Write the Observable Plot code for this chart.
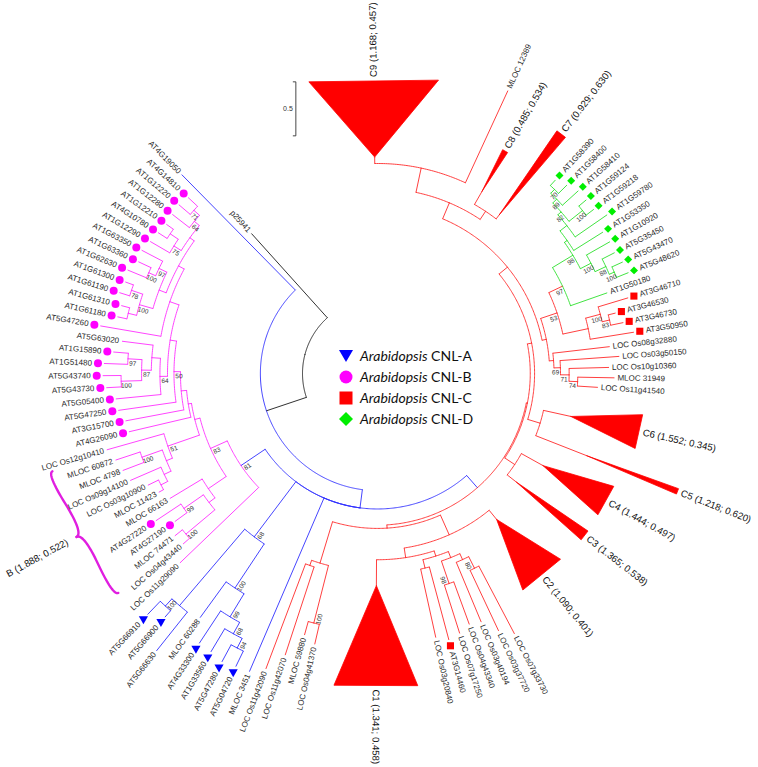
<!DOCTYPE html>
<html><head><meta charset="utf-8">
<script src="https://cdn.jsdelivr.net/npm/d3@7"></script>
<script src="https://cdn.jsdelivr.net/npm/@observablehq/plot@0.6"></script>
<style>
html,body{margin:0;padding:0;background:#fff;}
#wrap{position:relative;width:758px;height:767px;overflow:hidden;}
#legend{position:absolute;left:339px;top:345px;font-family:Lato,"Liberation Sans",Arial,sans-serif;font-size:14px;color:#111;}
#legend .row{height:21px;display:flex;align-items:center;white-space:nowrap;}
#legend svg{margin-right:7px;}
</style></head>
<body><div id="wrap"><div id="chart"></div><div id="legend"></div></div>
<script>
// ---------------- DATA ----------------
// internal nodes: [id, parent, depth from root (subst./site), bootstrap]
const outgroupNodes = [["root", null, 0, null], ["n1", "root", 0.39, null]];
const cnlANodes = [
  ["n2","n1",0.56,null],["m81","n2",0.83,81],["b68","n2",1.20,68],["y66","b68",2.13,null],
  ["x100","y66",2.22,100],["n100c","b68",1.69,100],["n99","n100c",1.94,99],["n68b","n99",2.06,68],
  ["n94","n68b",2.16,94],["nr","n2",0.71,null]
];
const cnlBNodes = [
  ["m83","m81",1.00,83],["mmain","m83",1.05,null],["mh","mmain",1.08,null],["mh1","mh",1.13,null],
  ["mh2","mh1",1.19,50],["mh3","mh2",1.25,null],["mup","mh3",1.34,null],["mu12","mup",1.40,null],
  ["mu1","mu12",1.45,null],["m64u","mu1",1.51,64],["m71","m64u",1.58,71],["m75","mu1",1.53,75],
  ["mc","m75",1.62,null],["mu2","mu12",1.47,null],["m97","mu2",1.55,97],["mg100","m97",1.62,100],
  ["mh100","mu2",1.60,100],["mh78","mh100",1.71,78],["mi","mh100",1.68,null],["m64l","mh3",1.32,64],
  ["ml2","m64l",1.40,null],["ml3","ml2",1.49,87],["ma2","ml3",1.62,97],["ma3","ml3",1.68,100],
  ["mb51","mmain",1.36,51],["mb3","mb51",1.42,null],["mb100","mb3",1.62,100],["mb4","mb3",1.49,null],
  ["mb5","mb4",1.56,null],["ml","m83",1.20,null],["ml5","ml",1.27,null],["n99m","ml5",1.49,99],
  ["n100m","ml5",1.62,100]
];
const cnlCNodes = [
  ["rb","nr",0.74,null],["rb1","rb",1.14,null],["rb1a","rb1",1.19,null],["r100","rb1",1.69,100],
  ["rd","rb",0.94,null],["rbc","rd",1.03,null],["rb2","rbc",1.08,null],["r51","rb2",1.16,null],
  ["r2","rb2",1.14,null],["r98","r2",1.36,98],["r3","r2",1.20,null],["r80","r3",1.32,80],
  ["rr","nr",0.72,null],["r34","rr",0.83,null],["rt","rr",0.76,null],["r56","rt",0.88,null],
  ["rq","rt",0.86,null],["ru","rq",0.90,null],["rl","ru",0.94,null],["r69","rl",1.00,69],
  ["r71","r69",1.08,71],["r74","r71",1.16,74],["r53","ru",1.06,53],["rc","r53",1.30,null],
  ["r100c","rc",1.44,100],["r83","r100c",1.51,83],["g97","r53",1.20,97],["r789","rq",1.02,null],
  ["r78","r789",1.11,null],["rc9","r789",1.25,null]
];
const cnlDNodes = [
  ["g98","g97",1.42,98],["g100a","g98",1.53,100],["g88","g100a",1.64,88],["g100b","g88",1.69,100],
  ["gu","g98",1.45,null],["gu1","gu",1.53,null],["g82","gu1",1.57,82],["g100c","g82",1.73,100],
  ["g89","g82",1.62,89],["g70","g89",1.67,70]
];

// leaves in drawing order: [label, parent, tip depth, marker group]
const outgroupLeaves = [["p25941","root",1.05,""]];
const cnlALeavesTop = [["AT4G19050","n1",1.89,""]];
const cnlBLeaves = [
  ["AT4G14810","m71",1.70,"B"],["AT1G12220","m71",1.72,"B"],["AT1G12280","m64u",1.71,"B"],
  ["AT1G12210","mc",1.70,"B"],["AT4G10780","mc",1.72,"B"],["AT1G12290","m75",1.74,"B"],
  ["AT1G63350","m97",1.77,"B"],["AT1G63360","mg100",1.75,"B"],["AT1G62630","mg100",1.81,"B"],
  ["AT1G61300","mh78",1.79,"B"],["AT1G61190","mh78",1.81,"B"],["AT1G61310","mi",1.76,"B"],
  ["AT1G61180","mi",1.77,"B"],["AT5G47260","mup",1.91,"B"],["AT5G63020","ml2",1.69,""],
  ["AT1G15890","ma2",1.76,"B"],["AT1G51480","ma2",1.84,"B"],["AT5G43740","ma3",1.85,"B"],
  ["AT5G43730","ma3",1.82,"B"],["AT5G05400","m64l",1.74,"B"],["AT5G47250","mh2",1.73,"B"],
  ["AT3G15700","mh1",1.68,"B"],["AT4G26090","mh",1.67,"B"],["LOC Os12g10410","mb51",1.91,""],
  ["MLOC 60872","mb100",1.86,""],["MLOC 4798","mb100",1.83,""],["LOC Os09g14100","mb4",1.80,""],
  ["LOC Os03g10900","mb5",1.67,""],["MLOC 11423","mb5",1.61,""],["MLOC 66163","ml",1.55,""],
  ["AT4G27220","n99m",1.77,"B"],["AT4G27190","n99m",1.63,"B"],["MLOC 74471","n100m",1.71,""],
  ["LOC Os04g43440","n100m",1.70,""],["LOC Os11g29090","m81",1.84,""]
];
const cnlALeaves = [
  ["AT5G66910","x100",2.39,"A"],["AT5G66900","x100",2.30,"A"],["AT5G66630","y66",2.59,""],
  ["MLOC 60288","n100c",2.10,""],["AT4G33300","n99",2.30,"A"],["AT1G33560","n68b",2.31,"A"],
  ["AT5G47280","n94",2.34,"A"],["AT5G04720","n94",2.32,"A"],["MLOC 3451","n2",2.31,""]
];
const cnlCLeavesLower = [
  ["LOC Os11g42090","rb1a",2.23,""],["LOC Os11g42070","rb1a",2.05,""],["MLOC 59880","r100",1.82,""],
  ["LOC Os04g41370","r100",1.88,""],["C1","rbc",2.22,"clade"],["LOC Os03g20840","r51",1.81,""],
  ["AT3G14460","r51",1.86,"C"],["LOC Os07g17250","r98",1.83,""],["LOC Os04g43340","r98",1.78,""],
  ["LOC Os03g40194","r3",1.80,""],["LOC Os03g37720","r80",1.94,""],["LOC Os07g33730","r80",2.03,""],
  ["C2","rd",1.72,"clade"],["C3","r34",1.74,"clade"],["C4","r34",1.73,"clade"],
  ["C5","r56",2.29,"clade"],["C6","r56",1.79,"clade"],["LOC Os11g41540","r74",1.35,""],
  ["MLOC 31949","r74",1.50,""],["LOC Os10g10360","r71",1.45,""],["LOC Os03g50150","r69",1.55,""],
  ["LOC Os08g32880","rl",1.47,""],["AT3G50950","rc",1.71,"C"],["AT3G46730","r83",1.63,"C"],
  ["AT3G46530","r83",1.58,"C"],["AT3G46710","r100c",1.73,"C"]
];
const cnlDLeaves = [
  ["AT1G50180","g97",1.56,""],["AT5G48620","g100b",1.81,"D"],["AT5G43470","g100b",1.80,"D"],
  ["AT5G35450","g88",1.77,"D"],["AT1G10920","g100a",1.78,"D"],["AT1G53350","gu",1.77,"D"],
  ["AT1G59780","gu1",1.89,"D"],["AT1G59218","g100c",1.82,"D"],["AT1G59124","g100c",1.82,"D"],
  ["AT1G58410","g89",1.82,"D"],["AT1G58400","g70",1.78,"D"],["AT1G58390","g70",1.74,"D"]
];
const cnlCLeavesUpper = [
  ["C7","r78",2.10,"clade"],["C8","r78",1.68,"clade"],["MLOC 12389","rc9",2.19,""],["C9","rc9",2.08,"clade"]
];

// collapsed clades
const cladeNames  = ["C1","C2","C3","C4","C5","C6","C7","C8","C9"];
const cladeSlots  = [9, 8, 2, 5, 1, 6, 3, 3, 19];
const cladeSpread = [6.0, 4.2, 0.95, 2.8, 0.4, 2.9, 0.8, 0.5, 9.8];
const cladeApex   = [1.27, 1.05, 0.94, 1.06, 1.39, 1.14, 1.16, 1.25, 1.31];
const cladeStats  = ["1.341; 0.458","1.090; 0.401","1.365; 0.538","1.444; 0.497","1.218; 0.620",
                     "1.552; 0.345","0.929; 0.630","0.485; 0.534","1.168; 0.457"];

// bracket B
const braceLeaves = ["LOC Os12g10410", "LOC Os04g43440"];
const braceLabel = "B (1.888; 0.522)";
const scaleBarValue = 0.5;

// legend
const legendGenus = "Arabidopsis";
const legendGroups = ["CNL-A","CNL-B","CNL-C","CNL-D"];
const legendMarkers = ["A","B","C","D"];

// ---------------- LAYOUT ----------------
const W = 758, H = 767, k = 108, cx = 377, cy = 373;
const rootOffset = 75 / k;
const startAngle = 228, step = 2.55;
const FONT = "'Liberation Sans', Arial, sans-serif";
const palette = {black:"#1a1a1a", blue:"#3030ff", magenta:"#ff30ff", red:"#ff2a2a", green:"#2ee02e"};
const markerFill = {A:"#0000ff", B:"#ff00ff", C:"#ff0000", D:"#00ee00"};
const toRad = Math.PI / 180;
const px = v => v / k;
const R = d => rootOffset + d;
const pt = (r, a) => ({x: r * Math.cos(a * toRad), y: r * Math.sin(a * toRad)});

const nodes = new Map();
for (const [rows, col] of [[outgroupNodes,"black"],[cnlANodes,"blue"],[cnlBNodes,"magenta"],[cnlCNodes,"red"],[cnlDNodes,"green"]])
  for (const [id, parent, depth, support] of rows)
    nodes.set(id, {id, parent, depth, support, color: palette[col], children: [], leaf: false});

const leafGroups = [[outgroupLeaves,"black"],[cnlALeavesTop,"blue"],[cnlBLeaves,"magenta"],[cnlALeaves,"blue"],
                    [cnlCLeavesLower,"red"],[cnlDLeaves,"green"],[cnlCLeavesUpper,"red"]];
let cum = -0.5;
const leaves = [];
for (const [rows, col] of leafGroups)
  for (const [label, parent, depth, marker] of rows) {
    const ci = cladeNames.indexOf(label);
    const w = ci >= 0 ? cladeSlots[ci] : 1;
    const pos = cum + w / 2; cum += w;
    const n = {id: label, parent, depth, marker, ci, pos, angle: startAngle - step * pos,
               color: palette[col], children: [], leaf: true};
    nodes.set(label, n); leaves.push(n);
  }
for (const n of nodes.values()) if (n.parent != null) nodes.get(n.parent).children.push(n);
(function layout(n) {
  if (n.leaf) { n.minPos = n.pos; return; }
  n.children.forEach(layout);
  n.children.sort((a, b) => a.minPos - b.minPos);
  n.minPos = n.children[0].minPos;
  n.angle = (n.children[0].angle + n.children[n.children.length - 1].angle) / 2;
})(nodes.get("root"));

const arcPts = [], radials = [];
for (const n of nodes.values()) {
  if (n.parent == null) continue;
  const p = nodes.get(n.parent);
  const r0 = R(p.depth), r1 = R(n.leaf && n.ci >= 0 ? cladeApex[n.ci] : n.depth);
  const a = pt(r0, n.angle), b = pt(r1, n.angle);
  radials.push({x1: a.x, y1: a.y, x2: b.x, y2: b.y, color: n.color});
  const steps = Math.max(2, Math.ceil(Math.abs(n.angle - p.angle) / 0.5));
  for (let i = 0; i <= steps; i++) {
    const q = pt(r0, p.angle + (n.angle - p.angle) * i / steps);
    arcPts.push({x: q.x, y: q.y, key: n.id, color: n.color});
  }
}

const isFlip = a => Math.cos(a * toRad) < -0.05;
const rotOf = a => isFlip(a) ? a - 180 : a;

const triPts = [], cladeText = [], markers = [], leafText = [];
for (const n of leaves) {
  if (n.ci >= 0) {
    const half = cladeSpread[n.ci] * step / 2;
    const ap = pt(R(cladeApex[n.ci]), n.angle);
    const c1 = pt(R(n.depth), n.angle - half), c2 = pt(R(n.depth), n.angle + half);
    for (const q of [ap, c1, c2, ap]) triPts.push({x: q.x, y: q.y, key: n.id});
    n.corner = c1;
    const q = pt(R(n.depth) * Math.cos(half * toRad) + px(4), n.angle);
    cladeText.push({x: q.x, y: q.y, text: `${n.id} (${cladeStats[n.ci]})`, rot: rotOf(n.angle), flip: isFlip(n.angle)});
  } else {
    if (n.marker) {
      const m = pt(R(n.depth) + px(6), n.angle);
      markers.push({x: m.x, y: m.y, type: n.marker});
    }
    const q = pt(R(n.depth) + px(n.marker ? 12 : 3), n.angle);
    leafText.push({x: q.x, y: q.y, text: n.id, rot: rotOf(n.angle), flip: isFlip(n.angle)});
  }
}

const supportText = [];
for (const n of nodes.values()) {
  if (n.leaf || n.support == null) continue;
  const base = pt(R(n.depth) - px(5), n.angle);
  const off = isFlip(n.angle) ? n.angle - 90 : n.angle + 90;
  const d = pt(px(4.5), off);
  supportText.push({x: base.x + d.x, y: base.y + d.y, text: String(n.support), rot: rotOf(n.angle)});
}

// curly brace for group B
const b0 = nodes.get(braceLeaves[0]), b1 = nodes.get(braceLeaves[1]);
const braceR = R(2.45);
const P1 = pt(braceR, b0.angle - 1), P2 = pt(braceR, b1.angle + 1);
const bracePts = [];
(function () {
  let dx = P1.x - P2.x, dy = P1.y - P2.y;
  const len = Math.hypot(dx, dy); dx /= len; dy /= len;
  let w = px(10); const q = 0.6;
  const mid = {x: (P1.x + P2.x) / 2, y: (P1.y + P2.y) / 2};
  if (dy * mid.x - dx * mid.y < 0) w = -w;
  const Q1 = {x: P1.x + q*w*dy, y: P1.y - q*w*dx};
  const Q2 = {x: P1.x - .25*len*dx + (1-q)*w*dy, y: P1.y - .25*len*dy - (1-q)*w*dx};
  const T  = {x: P1.x - .5*len*dx + w*dy, y: P1.y - .5*len*dy - w*dx};
  const Q3 = {x: P2.x + q*w*dy, y: P2.y - q*w*dx};
  const Q4 = {x: P1.x - .75*len*dx + (1-q)*w*dy, y: P1.y - .75*len*dy - (1-q)*w*dx};
  const quad = (a, c, b, key) => { for (let i = 0; i <= 16; i++) { const t = i/16;
    bracePts.push({key, x:(1-t)*(1-t)*a.x+2*(1-t)*t*c.x+t*t*b.x, y:(1-t)*(1-t)*a.y+2*(1-t)*t*c.y+t*t*b.y}); } };
  quad(P1, Q1, Q2, "a"); quad(Q2, {x: 2*Q2.x - Q1.x, y: 2*Q2.y - Q1.y}, T, "a");
  quad(P2, Q3, Q4, "b"); quad(Q4, {x: 2*Q4.x - Q3.x, y: 2*Q4.y - Q3.y}, T, "b");
})();
const bAngle = (b0.angle + b1.angle) / 2;
const bq = pt(braceR + px(13), bAngle);
const braceText = [{x: bq.x, y: bq.y, text: braceLabel, rot: rotOf(bAngle)}];

// scale bar next to C9
const c9 = nodes.get("C9");
const sbx = c9.corner.x - px(13), sby = c9.corner.y;
const scaleLinks = [
  {x1: sbx, y1: sby, x2: sbx, y2: sby + scaleBarValue},
  {x1: sbx - px(3), y1: sby, x2: sbx, y2: sby},
  {x1: sbx - px(3), y1: sby + scaleBarValue, x2: sbx, y2: sby + scaleBarValue}
];
const scaleText = [{x: sbx - px(3), y: sby + scaleBarValue / 2, text: String(scaleBarValue)}];

const triDown = {draw(ctx, size) {
  const a = Math.sqrt(size * 4 / Math.sqrt(3)), h = a * Math.sqrt(3) / 2;
  ctx.moveTo(0, 2*h/3); ctx.lineTo(-a/2, -h/3); ctx.lineTo(a/2, -h/3); ctx.closePath();
}};

const textOpts = {x: "x", y: "y", text: "text", rotate: "rot", fontFamily: FONT};
const chart = Plot.plot({
  width: W, height: H, margin: 0,
  x: {domain: [-cx / k, (W - cx) / k], range: [0, W], axis: null},
  y: {domain: [-cy / k, (H - cy) / k], range: [0, H], axis: null},
  color: {type: "identity"},
  style: {background: "#fff", fontFamily: FONT},
  marks: [
    Plot.line(arcPts, {x: "x", y: "y", z: "key", stroke: "color", strokeWidth: 0.9}),
    Plot.link(radials, {x1: "x1", y1: "y1", x2: "x2", y2: "y2", stroke: "color", strokeWidth: 0.9}),
    Plot.line(triPts, {x: "x", y: "y", z: "key", fill: "#ff0000", stroke: "#ff0000", strokeWidth: 0.8}),
    Plot.line(bracePts, {x: "x", y: "y", z: "key", stroke: "#e01ee0", strokeWidth: 2.4}),
    Plot.link(scaleLinks, {x1: "x1", y1: "y1", x2: "x2", y2: "y2", stroke: "#333", strokeWidth: 0.9}),
    Plot.text(scaleText, {x: "x", y: "y", text: "text", textAnchor: "end", fontSize: 7, fill: "#333", fontFamily: FONT}),
    Plot.dot(markers.filter(m => m.type === "A"), {x: "x", y: "y", r: 3.4, symbol: triDown, fill: markerFill.A, stroke: "none"}),
    Plot.dot(markers.filter(m => m.type === "B"), {x: "x", y: "y", r: 4, symbol: "circle", fill: markerFill.B, stroke: "none"}),
    Plot.dot(markers.filter(m => m.type === "C"), {x: "x", y: "y", r: 4, symbol: "square", fill: markerFill.C, stroke: "none"}),
    Plot.dot(markers.filter(m => m.type === "D"), {x: "x", y: "y", r: 3.6, symbol: "diamond2", fill: markerFill.D, stroke: "none"}),
    Plot.text(leafText.filter(d => !d.flip), {...textOpts, textAnchor: "start", fontSize: 8, fill: "#2a2a2a"}),
    Plot.text(leafText.filter(d => d.flip), {...textOpts, textAnchor: "end", fontSize: 8, fill: "#2a2a2a"}),
    Plot.text(supportText, {...textOpts, textAnchor: "middle", fontSize: 6.5, fill: "#333"}),
    Plot.text(cladeText.filter(d => !d.flip), {...textOpts, textAnchor: "start", fontSize: 9.6, fill: "#111"}),
    Plot.text(cladeText.filter(d => d.flip), {...textOpts, textAnchor: "end", fontSize: 9.6, fill: "#111"}),
    Plot.text(braceText, {...textOpts, textAnchor: "end", fontSize: 9.6, fill: "#111"})
  ]
});
document.getElementById("chart").appendChild(chart);

// legend
const legendSvg = {
  A: `<svg width="14" height="14"><polygon points="0,1 14,1 7,13" fill="${markerFill.A}"/></svg>`,
  B: `<svg width="14" height="14"><circle cx="7" cy="7" r="6.5" fill="${markerFill.B}"/></svg>`,
  C: `<svg width="14" height="14"><rect x="0.5" y="0.5" width="13" height="13" fill="${markerFill.C}"/></svg>`,
  D: `<svg width="14" height="14"><polygon points="7,0 14,7 7,14 0,7" fill="${markerFill.D}"/></svg>`
};
document.getElementById("legend").innerHTML = legendGroups.map((g, i) =>
  `<div class="row">${legendSvg[legendMarkers[i]]}<span><i>${legendGenus}</i> ${g}</span></div>`).join("");
</script></body></html>
